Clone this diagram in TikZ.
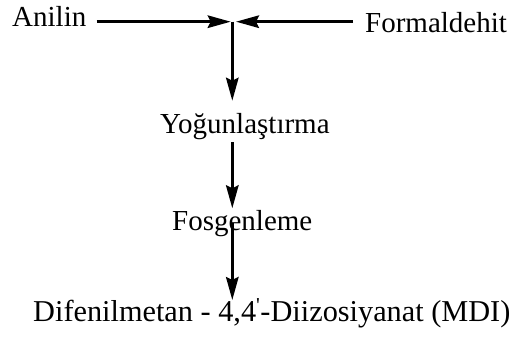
\documentclass[tikz,border=0pt]{standalone}
\usepackage{fontspec}
\setmainfont{Liberation Serif}
\usetikzlibrary{arrows.meta}
\begin{document}
\begin{tikzpicture}[x=1pt,y=-1pt,
  lbl/.style={inner sep=0pt,anchor=base west,font=\fontsize{29}{35}\selectfont},
  big/.style={inner sep=0pt,anchor=base west,font=\fontsize{30.3}{36}\selectfont},
  flow/.style={line width=2.8pt},
  arr/.style={flow,-{Stealth[length=23pt,width=12.5pt,inset=3pt]}}]
\useasboundingbox (0,0) rectangle (513,348);
% raw materials
\node[lbl] (anilin) at (12,26) {Anilin};
\node[lbl] (formal) at (365,32.3) {Formaldehit};
% process steps and product
\node[lbl] (yog) at (160,133) {Yoğunlaştırma};
\node[lbl] (fos) at (172,230) {Fosgenleme};
\node[big] (mdi) at (33,321.7) {Difenilmetan - 4,4\textsuperscript{\textquotesingle}-Diizosiyanat (MDI)};
% mixing point
\coordinate (j) at (232.3,21.7);
% feeds into the mixing point
\draw[arr] ([xshift=10pt,yshift=4.3pt]anilin.base east) -- ([xshift=-1.6pt]j);
\draw[arr] ([xshift=-12pt,yshift=10.6pt]formal.base west) -- ([xshift=3.7pt]j);
% process chain
\draw[arr] (j) -- ([yshift=32.3pt]yog.base -| j);
\draw[arr] ([yshift=-9pt]yog.base -| j) -- ([yshift=21.7pt]fos.base -| j);
\draw[arr] ([yshift=7pt]fos.base -| j) -- ([yshift=21.7pt]mdi.base -| j);
\end{tikzpicture}
\end{document}
